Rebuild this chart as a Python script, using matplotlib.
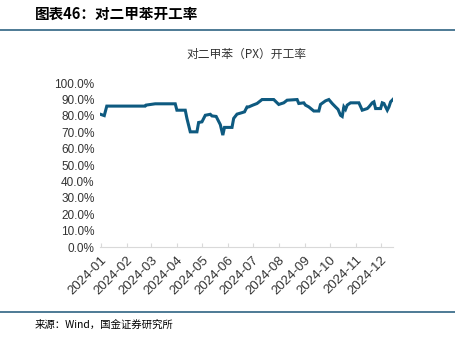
import matplotlib
matplotlib.use("Agg")
import matplotlib.pyplot as plt
import matplotlib.dates as mdates
import pandas as pd

plt.rcParams['font.family'] = ['Liberation Sans', 'Noto Sans CJK SC', 'DejaVu Sans']

# PX operating rate
dates = ["2024-01-01", "2024-01-05", "2024-01-08", "2024-02-23", "2024-02-24", "2024-03-06",
         "2024-03-30", "2024-04-01", "2024-04-11", "2024-04-13", "2024-04-17", "2024-04-25",
         "2024-04-27", "2024-05-01", "2024-05-05", "2024-05-11", "2024-05-13", "2024-05-18",
         "2024-05-23", "2024-05-26", "2024-05-28", "2024-06-06", "2024-06-08", "2024-06-12",
         "2024-06-18", "2024-06-21", "2024-06-24", "2024-06-26", "2024-07-01", "2024-07-06",
         "2024-07-12", "2024-07-26", "2024-08-01", "2024-08-07", "2024-08-11", "2024-08-23",
         "2024-08-25", "2024-08-31", "2024-09-02", "2024-09-06", "2024-09-12", "2024-09-18",
         "2024-09-20", "2024-09-26", "2024-09-30", "2024-10-04", "2024-10-08", "2024-10-11",
         "2024-10-14", "2024-10-16", "2024-10-18", "2024-10-20", "2024-10-22", "2024-10-26",
         "2024-11-05", "2024-11-09", "2024-11-15", "2024-11-17", "2024-11-21", "2024-11-23",
         "2024-11-25", "2024-12-01", "2024-12-03", "2024-12-05", "2024-12-07", "2024-12-09",
         "2024-12-11", "2024-12-13", "2024-12-16"]
rate = [80.9, 80.2, 86.0, 86.0, 86.6, 87.4,
        87.4, 83.5, 83.5, 78.5, 70.3, 70.3,
        76.0, 76.4, 80.4, 81.0, 80.0, 79.7,
        74.7, 68.3, 73.0, 73.0, 78.5, 81.1,
        82.0, 82.5, 85.5, 85.5, 86.6, 87.6,
        90.0, 90.0, 87.0, 88.0, 89.6, 90.0,
        87.6, 88.0, 86.6, 85.5, 83.0, 83.0,
        87.0, 89.2, 90.0, 87.6, 85.5, 84.0,
        80.4, 79.7, 85.5, 84.0, 86.6, 88.0,
        88.0, 83.5, 84.5, 85.5, 88.0, 88.6,
        84.5, 84.5, 88.0, 87.6, 85.5, 83.5,
        85.5, 88.6, 90.2]
ticks = ["2024-%02d-01" % m for m in range(1, 13)]

x = pd.to_datetime(dates)
y = [v / 100 for v in rate]

fig = plt.figure(figsize=(4.55, 3.38), dpi=100)
ax = fig.add_axes([0.22, 0.269, 0.644, 0.485])

ax.plot(x, y, color='#0E5A80', linewidth=2.2, solid_joinstyle='miter')

ax.set_ylim(0, 1.0)
ax.set_yticks([i / 10 for i in range(11)])
ax.set_yticklabels(["%.1f%%" % (i * 10) for i in range(11)], fontsize=8.5, color='#333333')
ax.set_xlim(pd.Timestamp("2023-12-31"), pd.Timestamp("2024-12-16"))
ax.set_xticks(pd.to_datetime(ticks))
ax.xaxis.set_major_formatter(mdates.DateFormatter('%Y-%m'))
for lab in ax.get_xticklabels():
    lab.set_rotation(45)
    lab.set_ha('right')
    lab.set_rotation_mode('anchor')
    lab.set_fontsize(9.5)
    lab.set_color('#333333')

for s in ['top', 'right', 'left']:
    ax.spines[s].set_visible(False)
ax.spines['bottom'].set_color('#d9d9d9')
ax.tick_params(axis='y', length=0, pad=4)
ax.tick_params(axis='x', length=3, direction='in', color='#d9d9d9', pad=5)

ax.set_title("对二甲苯（PX）开工率", fontsize=8.5, color='#333333', pad=18,
             family=['Noto Sans CJK SC', 'DejaVu Sans'])

fig.text(35 / 455, 1 - 14 / 338, "图表46：对二甲苯开工率", fontsize=10.5, fontweight='bold',
         style='italic', va='center', ha='left', family=['Noto Sans CJK SC', 'DejaVu Sans'])
fig.add_artist(plt.Line2D([0, 1], [1 - 30 / 338, 1 - 30 / 338], color='#2F6383', linewidth=1.2))
fig.add_artist(plt.Line2D([0, 1], [1 - 312 / 338, 1 - 312 / 338], color='#2F6383', linewidth=1.2))
fig.text(35 / 455, 1 - 325 / 338, "来源：Wind，国金证券研究所", fontsize=7.5, va='center', ha='left',
         family=['Noto Sans CJK SC', 'DejaVu Sans'])

fig.savefig("out.png", dpi=100)
